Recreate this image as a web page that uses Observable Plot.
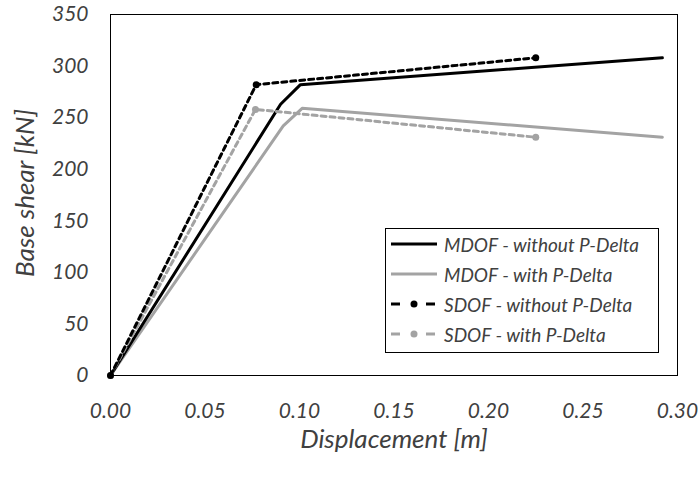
<!DOCTYPE html>
<html><head><meta charset="utf-8">
<script src="https://cdn.jsdelivr.net/npm/d3@7"></script>
<script src="https://cdn.jsdelivr.net/npm/@observablehq/plot@0.6"></script>
<style>
body{margin:0;background:#fff;}
#wrap{position:relative;width:698px;height:477px;font-family:Lato,"Open Sans",sans-serif;}
#legend{position:absolute;left:385px;top:228px;width:274px;height:125px;border:1px solid #000;background:#fff;box-sizing:border-box;}
.item{position:absolute;left:3px;height:24px;display:flex;align-items:center;font-style:italic;font-size:19px;color:#404040;white-space:nowrap;}
.item svg{margin-right:5px;}
</style></head>
<body><div id="wrap"></div>
<script>
const series = ["MDOF - without P-Delta","MDOF - with P-Delta","SDOF - without P-Delta","SDOF - with P-Delta"];
const mdofNoPDx = [0, 0.090, 0.1005, 0.292];
const mdofNoPDy = [0, 263, 282, 308];
const mdofPDx = [0, 0.0914, 0.1014, 0.292];
const mdofPDy = [0, 242, 259, 231];
const sdofNoPDx = [0, 0.0771, 0.225];
const sdofNoPDy = [0, 282, 308];
const sdofPDx = [0, 0.0767, 0.225];
const sdofPDy = [0, 258, 231];
const xTicks = [0, 0.05, 0.10, 0.15, 0.20, 0.25, 0.30];
const yTicks = [0, 50, 100, 150, 200, 250, 300, 350];

const toRows = (xs, ys, s) => xs.map((x, i) => ({x, y: ys[i], s}));
const d1 = toRows(mdofNoPDx, mdofNoPDy, series[0]);
const d2 = toRows(mdofPDx, mdofPDy, series[1]);
const d3r = toRows(sdofNoPDx, sdofNoPDy, series[2]);
const d4 = toRows(sdofPDx, sdofPDy, series[3]);
const BLACK = "#000", GRAY = "#a3a3a3";
const font = {fontFamily: "Lato, 'Open Sans', sans-serif", fontStyle: "italic"};

const chart = Plot.plot({
  width: 698, height: 477,
  marginLeft: 110, marginRight: 21, marginTop: 14, marginBottom: 102,
  style: {...font, fontSize: "21px", color: "#404040", background: "#fff"},
  x: {domain: [0, 0.30], ticks: xTicks, tickFormat: d3.format(".2f")},
  y: {domain: [0, 350], ticks: yTicks},
  marks: [
    Plot.frame({stroke: "#000", strokeWidth: 1}),
    Plot.axisX({ticks: xTicks, tickFormat: d3.format(".2f"), tickSize: 0, tickPadding: 28, label: null, fontSize: 21}),
    Plot.axisY({ticks: yTicks, tickSize: 0, tickPadding: 22, label: null, fontSize: 21}),
    Plot.text(["Displacement [m]"], {frameAnchor: "bottom", lineAnchor: "middle", textAnchor: "middle", dy: 64, fontSize: 26, fill: "#404040"}),
    Plot.text(["Base shear [kN]"], {frameAnchor: "left", textAnchor: "middle", lineAnchor: "middle", dx: -85, dy: -2, rotate: -90, fontSize: 26, fill: "#404040"}),
    Plot.line(d2, {x: "x", y: "y", stroke: GRAY, strokeWidth: 3}),
    Plot.line(d1, {x: "x", y: "y", stroke: BLACK, strokeWidth: 3}),
    Plot.line(d4, {x: "x", y: "y", stroke: GRAY, strokeWidth: 3, strokeDasharray: "5,4"}),
    Plot.dot(d4, {x: "x", y: "y", fill: GRAY, r: 3.5}),
    Plot.line(d3r, {x: "x", y: "y", stroke: BLACK, strokeWidth: 3, strokeDasharray: "5,4"}),
    Plot.dot(d3r, {x: "x", y: "y", fill: BLACK, r: 3.5})
  ]
});
d3.select(chart).selectAll('g[aria-label*="tick label"]')
  .attr("font-size", 21).style("font-size", "21px").style("font-style", "italic");
const wrap = document.getElementById("wrap");
wrap.appendChild(chart);

const legend = document.createElement("div");
legend.id = "legend";
const styles = [
  {c: BLACK, dashed: false},
  {c: GRAY, dashed: false},
  {c: BLACK, dashed: true},
  {c: GRAY, dashed: true}
];
series.forEach((name, i) => {
  const st = styles[i];
  const it = document.createElement("div");
  it.className = "item";
  it.style.top = (3 + i * 30) + "px";
  const sample = st.dashed
    ? `<line x1="2" x2="11" y1="6" y2="6" stroke="${st.c}" stroke-width="3"/><circle cx="25" cy="6" r="3.5" fill="${st.c}"/><line x1="37" x2="46" y1="6" y2="6" stroke="${st.c}" stroke-width="3"/>`
    : `<line x1="2" x2="48" y1="6" y2="6" stroke="${st.c}" stroke-width="3"/>`;
  it.innerHTML = `<svg width="50" height="12">${sample}</svg><span>${name}</span>`;
  legend.appendChild(it);
});
wrap.appendChild(legend);
</script></body></html>
